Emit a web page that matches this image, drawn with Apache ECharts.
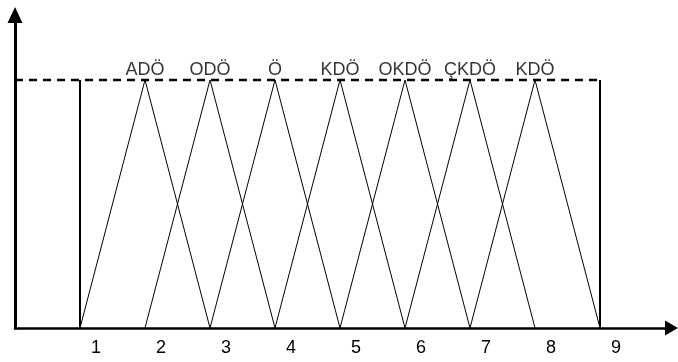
<!DOCTYPE html>
<html>
<head>
<meta charset="utf-8">
<script src="https://cdn.jsdelivr.net/npm/echarts@6/dist/echarts.min.js"></script>
<style>
  html, body { margin: 0; padding: 0; background: #fff; }
  #chart { width: 678px; height: 362px; }
</style>
</head>
<body>
<div id="chart"></div>
<script>
// fuzzy sets: left foot, peak, right foot
const setNames = ['ADÖ', 'ODÖ', 'Ö', 'KDÖ', 'OKDÖ', 'ÇKDÖ', 'KDÖ']
const setLeft = [1, 2, 3, 4, 5, 6, 7]
const setPeak = [2, 3, 4, 5, 6, 7, 8]
const setRight = [3, 4, 5, 6, 7, 8, 9]
const tickLabels = ['1', '2', '3', '4', '5', '6', '7', '8', '9']
const boundLeft = 1
const boundRight = 9
const topLevel = 1

const font = 'Liberation Sans, Arial, sans-serif'

const series = []
setNames.forEach((name, i) => {
  series.push({
    type: 'line',
    silent: true,
    symbol: 'none',
    lineStyle: { color: '#000', width: 1 },
    data: [[setLeft[i], 0], [setPeak[i], topLevel], [setRight[i], 0]]
  })
})

// names above the peaks
series.push({
  type: 'scatter',
  silent: true,
  symbolSize: 0,
  z: 5,
  label: {
    show: true,
    position: 'top',
    distance: 1,
    color: '#000',
    fontSize: 18,
    fontFamily: font,
    formatter: p => setNames[p.dataIndex]
  },
  data: setPeak.map(x => [x, topLevel])
})

// dashed top level and the two boundary verticals
series.push({
  type: 'line',
  silent: true,
  symbol: 'none',
  lineStyle: { color: '#000', width: 2.5, type: [8, 6] },
  data: [[0, topLevel], [boundRight, topLevel]]
})
;[boundLeft, boundRight].forEach(x => {
  series.push({
    type: 'line',
    silent: true,
    symbol: 'none',
    lineStyle: { color: '#000', width: 2 },
    data: [[x, 0], [x, topLevel]]
  })
})

const chart = echarts.init(document.getElementById('chart'))
chart.setOption({
  animation: false,
  grid: { left: 15, right: 6.5, top: 15, bottom: 34 },
  xAxis: {
    type: 'value',
    min: 0,
    max: 10.1,
    interval: 1,
    splitLine: { show: false },
    axisTick: { show: false },
    axisLine: {
      lineStyle: { color: '#000', width: 2.5 },
      symbol: ['none', 'triangle'],
      symbolSize: [15, 13]
    },
    axisLabel: {
      margin: 11,
      align: 'left',
      padding: [0, 0, 0, 11],
      color: '#000',
      fontSize: 18,
      fontFamily: font,
      formatter: v => tickLabels[v - 1] || ''
    }
  },
  yAxis: {
    type: 'value',
    min: 0,
    max: 1.262,
    splitLine: { show: false },
    axisTick: { show: false },
    axisLabel: { show: false },
    axisLine: {
      lineStyle: { color: '#000', width: 3 },
      symbol: ['none', 'triangle'],
      symbolSize: [15, 16]
    }
  },
  series
})
</script>
</body>
</html>
